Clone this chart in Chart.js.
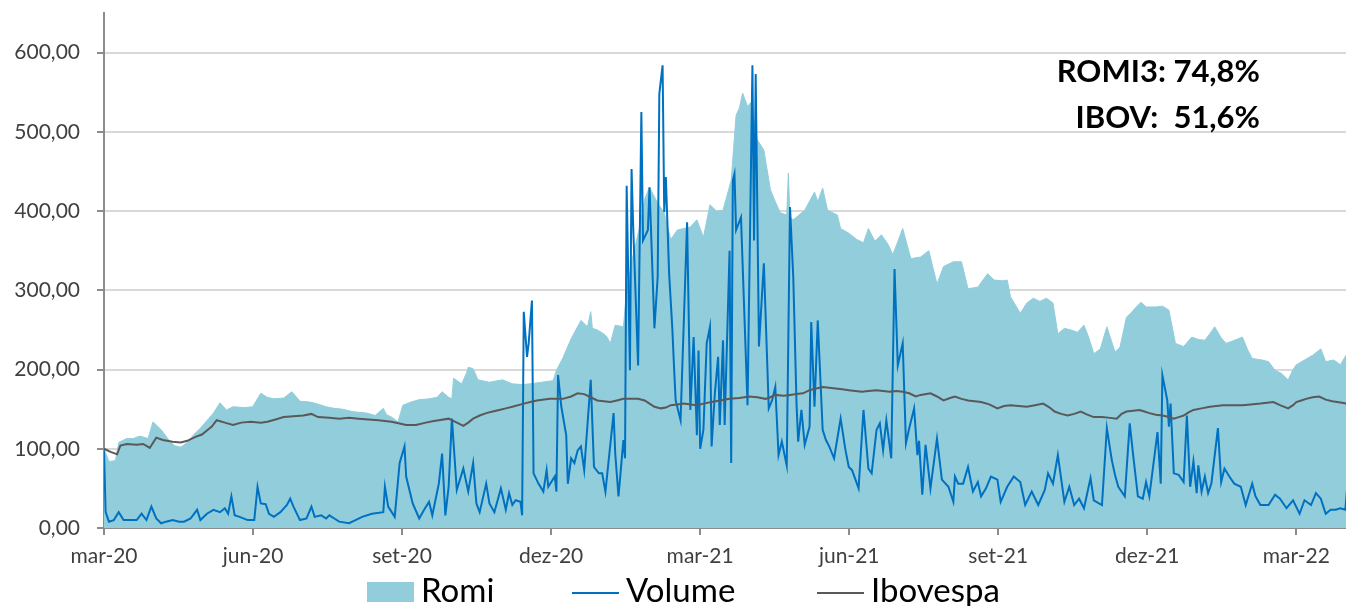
<!DOCTYPE html>
<html lang="pt-BR">
<head>
    <meta charset="UTF-8">
    <title>Romi x Volume x Ibovespa</title>
    <script src="https://cdn.jsdelivr.net/npm/chart.js"></script>
    <style>
        html, body { margin: 0; padding: 0; background: #fff; }
        #wrap { position: relative; width: 1346px; height: 606px; overflow: hidden; font-family: Lato, sans-serif; }
        #grafico { position: absolute; left: 0; top: 0; }
        .leg { position: absolute; top: 573px; display: flex; align-items: flex-start; font-size: 33px; line-height: 33px; color: #000; white-space: nowrap; }
        .leg .box { width: 47px; height: 20px; background: #92CDDC; margin: 9px 7px 0 0; }
        .leg .ln { width: 47px; height: 0; border-top: 2.5px solid; margin: 19px 7px 0 0; }
    </style>
</head>
<body>
<div id="wrap">
    <canvas id="grafico" width="1346" height="606"></canvas>
    <!-- legenda em HTML -->
    <div class="leg" style="left:367px"><span class="box"></span>Romi</div>
    <div class="leg" style="left:572px"><span class="ln" style="border-color:#0070C0"></span>Volume</div>
    <div class="leg" style="left:817px"><span class="ln" style="border-color:#595959"></span>Ibovespa</div>
</div>

<script>
    // eixo x: dias corridos desde 01/03/2020 (base 100 em mar-20)
    var rotulosX = ['mar-20', 'jun-20', 'set-20', 'dez-20', 'mar-21', 'jun-21', 'set-21', 'dez-21', 'mar-22'];
    var DIAS_POR_MES = 730 / 24;

    // Romi (area)
    var romiDias = [
        0, 3, 7, 9, 14, 18, 22, 27, 30, 33,
        35, 39, 43, 47, 51, 55, 59, 64, 67, 71,
        75, 79, 86, 91, 96, 100, 104, 110, 115, 120,
        126, 130, 136, 141, 146, 152, 156, 161, 166, 171,
        173, 176, 180, 183, 188, 193, 199, 204, 207, 211,
        213, 214, 219, 222, 223, 226, 229, 236, 244, 250,
        256, 261, 268, 275, 277, 281, 286, 292, 296, 298,
        299, 302, 306, 308, 310, 313, 318, 320, 324, 328,
        331, 334, 339, 343, 347, 351, 355, 359, 363, 367,
        371, 375, 379, 384, 387, 389, 391, 394, 396, 400,
        404, 408, 411, 414, 418, 419, 420, 422, 429, 435,
        437, 440, 443, 449, 451, 456, 461, 465, 468, 472,
        476, 480, 483, 489, 494, 500, 505, 510, 514, 520,
        525, 529, 535, 541, 545, 550, 553, 555, 561, 565,
        569, 573, 577, 581, 584, 588, 592, 596, 600, 603,
        606, 610, 614, 617, 619, 622, 626, 629, 632, 635,
        638, 644, 648, 652, 656, 661, 666, 670, 674, 677,
        680, 684, 687, 691, 697, 700, 703, 709, 713, 717,
        721, 725, 728, 730, 735, 740, 745, 748, 753, 757,
        761
    ];
    var romiValores = [
        100, 84, 85, 108, 113, 113, 116, 113, 134, 128,
        124, 113, 104, 102, 108, 118, 126, 138, 145, 158,
        149, 153, 152, 153, 170, 165, 163, 164, 172, 160,
        159, 157, 153, 151, 150, 147, 146, 145, 142, 151,
        143, 140, 134, 155, 159, 162, 163, 165, 172, 165,
        163, 189, 182, 196, 203, 201, 187, 184, 187, 182,
        181, 182, 184, 186, 199, 215, 239, 262, 254, 273,
        252, 250, 245, 241, 233, 256, 254, 300, 345, 380,
        415, 430, 410, 398, 364, 376, 378, 380, 389, 367,
        408, 400, 401, 439, 521, 530, 549, 532, 537, 490,
        477, 427, 412, 398, 395, 448, 392, 389, 401, 424,
        412, 429, 401, 395, 378, 372, 364, 360, 378, 362,
        370, 358, 345, 378, 340, 342, 350, 308, 330, 336,
        336, 302, 304, 321, 313, 312, 313, 292, 271, 284,
        290, 286, 290, 284, 245, 252, 250, 247, 256, 240,
        220, 226, 254, 235, 222, 228, 266, 272, 279, 285,
        279, 279, 280, 275, 233, 229, 241, 238, 237, 245,
        254, 240, 233, 236, 241, 226, 214, 212, 210, 199,
        195, 187, 200, 206, 212, 218, 226, 210, 212, 206,
        220
    ];

    // Volume (linha azul)
    var volDias = [
        0, 1, 3, 6, 9, 12, 16, 20, 23, 26,
        29, 32, 35, 38, 42, 46, 49, 53, 57, 59,
        63, 67, 71, 74, 76, 78, 80, 83, 88, 92,
        94, 96, 99, 101, 104, 108, 112, 114, 116, 120,
        124, 127, 129, 133, 136, 138, 141, 144, 150, 154,
        158, 164, 171, 172, 174, 178, 181, 184, 185, 189,
        193, 196, 199, 201, 205, 207, 209, 211, 213, 216,
        220, 223, 226, 228, 230, 234, 236, 239, 243, 246,
        248, 250, 252, 255, 256, 257, 259, 260, 262, 263,
        266, 269, 271, 272, 276, 277, 278, 280, 283, 284,
        286, 288, 290, 292, 294, 298, 300, 303, 305, 307,
        312, 313, 315, 318, 319, 320, 322, 323, 324, 327,
        329, 330, 333, 334, 337, 339, 340, 342, 343, 344,
        346, 348, 349, 350, 353, 357, 359, 361, 363, 364,
        365, 367, 369, 371, 372, 374, 376, 377, 379, 380,
        383, 384, 385, 386, 387, 390, 394, 397, 398, 399,
        401, 404, 407, 409, 411, 413, 415, 418, 420, 422,
        424, 425, 427, 429, 432, 433, 435, 437, 440, 442,
        444, 447, 451, 454, 456, 458, 462, 465, 468, 470,
        473, 475, 477, 479, 482, 484, 486, 489, 491, 493,
        496, 498, 499, 501, 503, 506, 510, 513, 517, 520,
        521, 523, 526, 529, 532, 535, 537, 540, 543, 547,
        549, 553, 557, 561, 564, 568, 572, 576, 578, 581,
        584, 588, 591, 594, 597, 600, 604, 606, 611, 614,
        617, 619, 621, 625, 628, 630, 633, 636, 638, 640,
        645, 647, 648, 651, 652, 653, 655, 658, 661, 663,
        665, 667, 669, 670, 672, 674, 676, 678, 682, 684,
        686, 689, 692, 696, 699, 703, 705, 708, 713, 717,
        720, 724, 728, 732, 735, 739, 742, 745, 748, 751,
        754, 757, 760, 761
    ];
    var volValores = [
        98, 20, 8, 10, 20, 10, 10, 10, 18, 10,
        27, 12, 6, 8, 10, 8, 8, 12, 23, 10,
        18, 23, 20, 25, 18, 40, 16, 14, 10, 10,
        52, 31, 30, 18, 14, 20, 29, 37, 27, 10,
        12, 27, 14, 16, 12, 16, 12, 8, 6, 10,
        14, 18, 20, 52, 27, 14, 82, 103, 65, 31,
        12, 23, 33, 16, 56, 94, 16, 52, 138, 48,
        75, 46, 82, 31, 20, 56, 31, 20, 50, 23,
        44, 29, 35, 33, 16, 273, 216, 233, 287, 69,
        56, 46, 73, 52, 65, 46, 193, 153, 117, 56,
        88, 82, 98, 103, 73, 187, 77, 69, 69, 46,
        145, 94, 40, 111, 88, 432, 199, 453, 380, 205,
        525, 363, 376, 430, 252, 317, 548, 584, 399, 443,
        321, 250, 203, 161, 136, 386, 149, 241, 117, 224,
        100, 124, 233, 254, 103, 170, 216, 130, 237, 130,
        350, 82, 439, 447, 376, 392, 155, 584, 363, 573,
        229, 334, 151, 161, 178, 92, 109, 79, 405, 317,
        157, 109, 149, 105, 128, 260, 153, 262, 124, 111,
        103, 88, 138, 98, 77, 73, 50, 149, 75, 69,
        124, 132, 98, 136, 88, 327, 205, 233, 107, 126,
        151, 92, 110, 42, 105, 50, 113, 61, 52, 33,
        65, 56, 56, 77, 46, 58, 40, 50, 65, 61,
        33, 52, 65, 58, 29, 46, 29, 48, 69, 56,
        92, 33, 52, 29, 37, 25, 63, 35, 29, 126,
        86, 67, 52, 40, 132, 94, 40, 37, 58, 40,
        121, 56, 193, 161, 128, 157, 69, 67, 58, 142,
        52, 84, 44, 79, 46, 65, 44, 56, 126, 58,
        75, 65, 56, 52, 29, 56, 40, 29, 29, 42,
        37, 25, 35, 18, 35, 29, 44, 37, 18, 23,
        23, 25, 23, 48
    ];

    // Ibovespa (linha cinza)
    var ibovDias = [
        0, 4, 8, 10, 14, 20, 24, 28, 32, 36,
        42, 47, 51, 56, 60, 63, 66, 69, 74, 79,
        84, 90, 96, 100, 105, 110, 116, 122, 127, 131,
        138, 144, 150, 156, 162, 168, 172, 176, 181, 185,
        191, 197, 202, 205, 211, 217, 220, 223, 226, 230,
        234, 238, 242, 246, 250, 257, 261, 265, 273,
        281, 286, 290, 294, 298, 302, 306, 310, 314, 318,
        322, 327, 331, 334, 337, 341, 344, 347, 351, 355,
        359, 363, 367, 372, 377, 383, 389, 395, 400, 405,
        408, 411, 416, 420, 424, 428, 432, 436, 440, 444,
        448, 452, 456, 460, 464, 468, 473, 477, 481, 485,
        489, 493, 497, 500, 506, 510, 514, 518, 521, 525,
        529, 533, 537, 542, 547, 551, 555, 560, 565, 570,
        575, 579, 582, 586, 590, 594, 598, 602, 606, 611,
        616, 620, 623, 626, 630, 634, 637, 640, 644, 648,
        652, 655, 658, 661, 664, 667, 672, 677, 681, 685,
        690, 697, 702, 708, 712, 716, 720, 725, 728, 730,
        733, 736, 740, 744, 748, 752, 755, 758, 761
    ];
    var ibovValores = [
        100, 96, 93, 104, 106, 105, 106, 101, 114, 111,
        109, 108, 110, 115, 118, 123, 128, 136, 133, 130,
        133, 134, 133, 134, 137, 140, 141, 142, 144, 140,
        139, 138, 139, 138, 137, 136, 135, 134, 132, 130,
        130, 133, 135, 136, 138, 132, 129, 133, 138, 142,
        145, 147, 149, 151, 153, 157, 159, 161, 163,
        163, 166, 170, 169, 165, 161, 160, 159, 161, 163,
        163, 163, 161, 157, 153, 151, 152, 155, 156, 157,
        156, 155, 157, 159, 161, 163, 164, 166, 165, 163,
        165, 168, 167, 168, 169, 170, 174, 176, 178, 177,
        176, 175, 174, 173, 172, 173, 174, 173, 172, 173,
        172, 170, 166, 168, 170, 166, 161, 164, 166, 163,
        161, 160, 159, 156, 151, 154, 155, 154, 153, 155,
        157, 152, 147, 144, 142, 144, 147, 143, 140, 140,
        139, 138, 144, 147, 148, 149, 147, 145, 143, 142,
        140, 138, 140, 142, 146, 149, 151, 153, 154, 155,
        155, 155, 156, 157, 158, 159, 155, 151, 155, 159,
        161, 163, 165, 166, 162, 160, 159, 158, 157
    ];

    var destaques = ['ROMI3: 74,8%', 'IBOV:  51,6%'];

    function pontos(dias, valores) {
        var out = [];
        for (var i = 0; i < dias.length; i++) {
            out.push({ x: dias[i] / DIAS_POR_MES, y: valores[i] });
        }
        return out;
    }

    // textos de rentabilidade no canto superior direito
    var textoRentab = {
        id: 'textoRentab',
        afterDraw: function (chart) {
            var ctx = chart.ctx;
            ctx.save();
            ctx.font = 'bold 31px Lato';
            ctx.fillStyle = '#000';
            ctx.textAlign = 'right';
            ctx.textBaseline = 'alphabetic';
            ctx.fillText(destaques[0], chart.chartArea.right - 86, 82);
            ctx.fillText(destaques[1], chart.chartArea.right - 86, 128);
            ctx.restore();
        }
    };

    Chart.defaults.font.family = 'Lato';

    var cinzaEixo = '#8C8C8C';

    new Chart(document.getElementById('grafico').getContext('2d'), {
        type: 'line',
        data: {
            datasets: [{
                label: 'Romi',
                data: pontos(romiDias, romiValores),
                fill: 'origin',
                backgroundColor: '#92CDDC',
                borderColor: '#92CDDC',
                borderWidth: 1,
                pointRadius: 0,
                order: 3
            }, {
                label: 'Volume',
                data: pontos(volDias, volValores),
                fill: false,
                borderColor: '#0070C0',
                borderWidth: 2,
                pointRadius: 0,
                order: 2
            }, {
                label: 'Ibovespa',
                data: pontos(ibovDias, ibovValores),
                fill: false,
                borderColor: '#595959',
                borderWidth: 2,
                pointRadius: 0,
                order: 1
            }]
        },
        options: {
            responsive: false,
            animation: false,
            layout: { padding: { top: 13, left: 0, right: 0, bottom: 0 } },
            plugins: {
                legend: { display: false },
                tooltip: { enabled: false }
            },
            scales: {
                x: {
                    type: 'linear',
                    min: 0,
                    max: 25,
                    ticks: {
                        stepSize: 3,
                        includeBounds: false,
                        autoSkip: false,
                        maxRotation: 0,
                        padding: 9,
                        color: '#404040',
                        font: { size: 21 },
                        callback: function (v) { return rotulosX[Math.round(v / 3)]; }
                    },
                    grid: { drawOnChartArea: false, tickColor: cinzaEixo, tickLength: 7, lineWidth: 2 },
                    border: { color: cinzaEixo, width: 2 },
                    afterFit: function (axis) { axis.height = 78; }
                },
                y: {
                    min: 0,
                    max: 650,
                    ticks: {
                        stepSize: 100,
                        includeBounds: false,
                        padding: 17,
                        color: '#404040',
                        font: { size: 21 },
                        callback: function (v) { return v.toFixed(2).replace('.', ','); }
                    },
                    grid: { color: '#D9D9D9', lineWidth: 2, tickColor: cinzaEixo, tickLength: 7 },
                    border: { color: cinzaEixo, width: 2 },
                    afterFit: function (axis) {
                        axis.width = 104;
                        axis.paddingTop = 0;
                        axis.paddingBottom = 0;
                    }
                }
            }
        },
        plugins: [textoRentab]
    });
</script>
</body>
</html>
